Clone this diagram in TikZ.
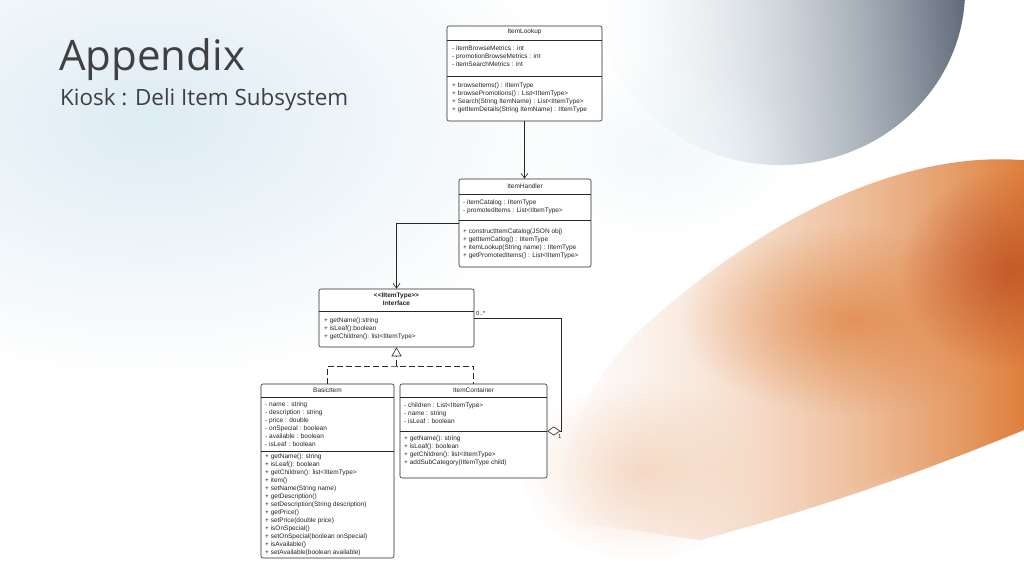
\documentclass[tikz,border=0pt]{standalone}
\usepackage{fontspec}
\setmainfont{Liberation Sans}
\newfontfamily\headfont{Open Sans}
\usetikzlibrary{arrows.meta,fadings}

\definecolor{umlline}{RGB}{40,40,40}
\definecolor{umltext}{RGB}{35,35,35}
\definecolor{swirlorange}{RGB}{222,128,60}
\definecolor{swirldeep}{RGB}{190,80,35}
\definecolor{swirlpeach}{RGB}{240,200,170}
\definecolor{swirlgrey}{RGB}{95,105,120}
\definecolor{skyblue}{RGB}{222,236,244}

\tikzfading[name=softglow,inner color=transparent!0,outer color=transparent!100]

\begin{document}
\begin{tikzpicture}
	[x=1pt,y=-1pt,
	classbox/.style={draw=umlline,fill=white,rounded corners=2pt,line width=0.6pt,inner sep=0pt},
	classname/.style={font=\fontsize{6.5}{8}\selectfont,text=umltext,inner sep=0pt},
	members/.style={font=\fontsize{6.5}{8}\selectfont,text=umltext,align=left,inner sep=0pt,anchor=north west},
	divider/.style={draw=umlline,line width=0.5pt},
	assoc/.style={draw=umlline,line width=0.6pt},
	multiplicity/.style={font=\fontsize{6}{6}\selectfont,text=umltext,inner sep=0pt}
	]
	\useasboundingbox (0,0) rectangle (1024,576);
	% background
	\fill[white] (0,0) rectangle (1024,576);
	\fill[skyblue,path fading=softglow] (150,120) ellipse [x radius=420, y radius=260];
	\shade[path fading=west,left color=skyblue,right color=swirlgrey,shading angle=100] (780,-10) ellipse [x radius=185, y radius=175];
	\fill[skyblue!50!white,opacity=0.7,path fading=softglow] (660,150) ellipse [x radius=140, y radius=90];
	\shade[path fading=west,left color=swirlpeach,right color=swirlorange]
		(1024,160) .. controls (900,150) and (760,220) .. (640,330)
		.. controls (580,390) and (560,450) .. (560,520)
		-- (700,540) .. controls (850,500) and (950,460) .. (1024,430) -- cycle;
	\fill[swirlorange,opacity=0.7,path fading=softglow] (850,320) ellipse [x radius=170, y radius=95];
	\fill[swirldeep,opacity=0.8,path fading=softglow] (1010,270) ellipse [x radius=110, y radius=100];
	\fill[swirlpeach,opacity=0.6,path fading=softglow] (640,470) ellipse [x radius=120, y radius=90];
	\fill[white,opacity=0.9,path fading=softglow] (980,570) ellipse [x radius=200, y radius=110];

	% heading
	\node[anchor=base west,inner sep=0pt,font=\headfont\fontsize{42}{48}\selectfont,text=black!75] (heading) at (59,70) {Appendix};
	\node[anchor=base west,inner sep=0pt,font=\headfont\fontsize{22.4}{24}\selectfont,text=black!75] (subheading) at (60,105) {Kiosk : Deli Item Subsystem};

	% classes
	\node[classbox,minimum width=155pt,minimum height=95pt] (lookup) at (524.5,73.5) {};
	\node[classname] (lookupname) at (524.5,32) {ItemLookup};
	\draw[divider] (lookup.west |- 0,40) -- (lookup.east |- 0,40);
	\draw[divider] (lookup.west |- 0,76) -- (lookup.east |- 0,76);
	\node[members] (lookupattr) at (452,45.5) {- itemBrowseMetrics : int\\- promotionBrowseMetrics : int\\- itemSearchMetrics : int};
	\node[members] (lookupops) at (452,82.5) {+ browseItems() : IItemType\\+ browsePromotions() : List<IItemType>\\+ Search(String ItemName) : List<IItemType>\\+ getItemDetails(String ItemName) : IItemType};

	\node[classbox,minimum width=132pt,minimum height=88pt] (handler) at (525,223) {};
	\node[classname] (handlername) at (525,186) {ItemHandler};
	\draw[divider] (handler.west |- 0,194) -- (handler.east |- 0,194);
	\draw[divider] (handler.west |- 0,220) -- (handler.east |- 0,220);
	\node[members] (handlerattr) at (463,199.5) {- itemCatalog : IItemType\\- promotedItems : List<IItemType>};
	\node[members] (handlerops) at (463,228.5) {+ constructItemCatalog(JSON obj)\\+ getItemCatlog() : IItemType\\+ itemLookup(String name) : IItemType\\+ getPromotedItems() : List<IItemType>};

	\node[classbox,minimum width=155pt,minimum height=58pt] (interface) at (396.5,318) {};
	\node[classname,font=\bfseries\fontsize{6.5}{8}\selectfont,align=center] (interfacename) at (396.5,299) {<\kern0pt<IItemType>\kern0pt>\\Interface};
	\draw[divider] (interface.west |- 0,311) -- (interface.east |- 0,311);
	\node[members] (interfaceops) at (324,317.5) {+ getName():string\\+ isLeaf():boolean\\+ getChildren(): list<IItemType>};

	\node[classbox,minimum width=133pt,minimum height=174pt] (basic) at (327.5,471) {};
	\node[classname] (basicname) at (327.5,390) {BasicItem};
	\draw[divider] (basic.west |- 0,397) -- (basic.east |- 0,397);
	\draw[divider] (basic.west |- 0,451) -- (basic.east |- 0,451);
	\node[members] (basicattr) at (265,401.5) {- name : string\\- description : string\\- price : double\\- onSpecial : boolean\\- available : boolean\\- isLeaf : boolean};
	\node[members] (basicops) at (265,453.5) {+ getName(): string\\+ isLeaf(): boolean\\+ getChildren(): list<IItemType>\\+ item()\\+ setName(String name)\\+ getDescription()\\+ setDescription(String description)\\+ getPrice()\\+ setPrice(double price)\\+ isOnSpecial()\\+ setOnSpecial(boolean onSpecial)\\+ isAvailable()\\+ setAvailable(boolean available)};

	\node[classbox,minimum width=147pt,minimum height=94pt] (container) at (473.5,431) {};
	\node[classname] (containername) at (473.5,390) {ItemContainer};
	\draw[divider] (container.west |- 0,397) -- (container.east |- 0,397);
	\draw[divider] (container.west |- 0,431) -- (container.east |- 0,431);
	\node[members] (containerattr) at (404,402.5) {- children : List<IItemType>\\- name : string\\- isLeaf : boolean};
	\node[members] (containerops) at (404,435.5) {+ getName(): string\\+ isLeaf(): boolean\\+ getChildren(): list<IItemType>\\+ addSubCategory(IItemType child)};

	% connectors
	\draw[assoc,-{Straight Barb[length=5pt,width=7pt]}] (lookup.south) -- (lookup.south |- handler.north);
	\draw[assoc,-{Straight Barb[length=5pt,width=7pt]}] (handler.west) -| (interface.north);
	\coordinate (generalize) at (396.5,366);
	\draw[assoc,dash pattern=on 6pt off 3pt] (basic.north) |- (generalize) -| (container.north);
	\draw[assoc,dash pattern=on 6pt off 3pt,-{Triangle[open,length=9pt,width=10pt]}] (generalize) -- (interface.south);
	\coordinate (aggregate) at (561,0);
	\draw[assoc,-{Diamond[open,length=13pt,width=9pt]}] (interface.east) -- (interface.east -| aggregate) -- (aggregate |- container.east) -- (container.east);
	\node[multiplicity,anchor=south west] (manyend) at (476,316) {0..*};
	\node[multiplicity,anchor=north west] (oneend) at (558,434) {1};
\end{tikzpicture}
\end{document}
